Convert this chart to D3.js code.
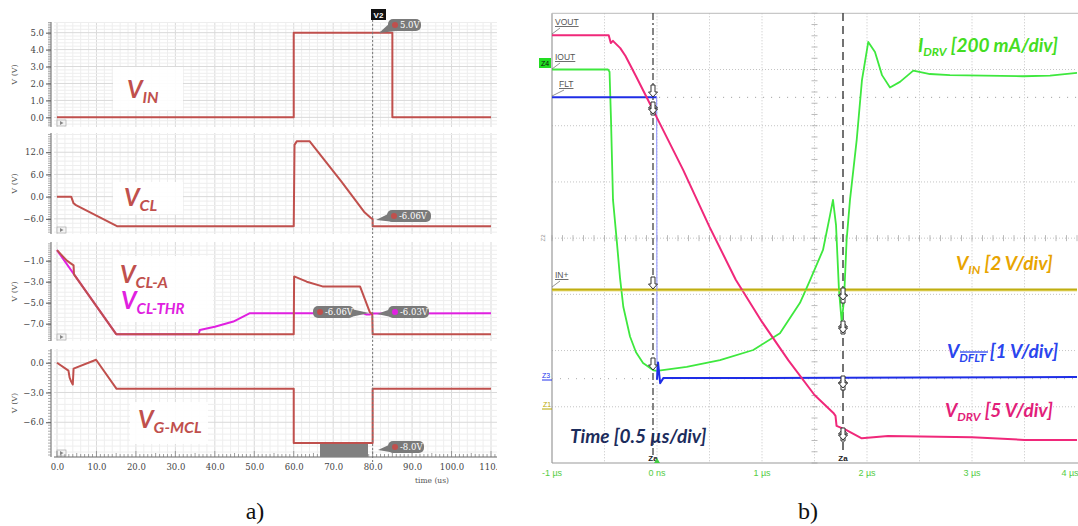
<!DOCTYPE html>
<html><head><meta charset="utf-8">
<script src="https://cdn.jsdelivr.net/npm/d3@7"></script>
<style>
html,body{margin:0;padding:0;background:#fff;}
svg{display:block;}
</style></head>
<body>
<svg id="c" width="1078" height="526"></svg>
<script>
// ---------------- DATA: panel a) simulation (time in µs, value in V) ----------------
const timeTicks = [0,10,20,30,40,50,60,70,80,90,100,110];
const vinData   = [[0,0],[60,0],[60,5],[85,5],[85,0],[110,0]];
const vclData   = [[0,0],[3.6,0],[4.2,-1.8],[4.8,-2.3],[15.2,-8],[60,-8],[60.2,14],[60.8,15],[64,15],[72,4.2],[76,-1.5],[78,-4.3],[79.5,-5.7],[80,-6.06],[80,-8],[110,-8]];
const vclAData  = [[0,0],[2.5,-1.0],[4.2,-1.45],[4.3,-2.3],[15,-8],[60,-8],[60.1,-2.5],[63.3,-3.0],[67.3,-3.45],[76.8,-3.45],[79.3,-5.93],[79.9,-6.06],[80,-8],[110,-8]];
const vclThrData= [[0,0],[15,-8],[35.9,-8],[36.2,-7.6],[40,-7.3],[44.7,-6.8],[48.9,-6.0],[77.5,-6.0],[78.3,-6.12],[79.4,-6.12],[80,-6.03],[110,-6.0]];
const vgData    = [[0,0],[2.9,-0.8],[3.2,-1.5],[3.6,-1.9],[4.0,-2.2],[4.2,-0.6],[9.9,0.3],[15.1,-2.63],[60,-2.63],[60,-8.1],[80,-8.1],[80,-2.63],[110,-2.63]];
const p1Ticks = [0,1,2,3,4,5];
const p2Ticks = [-6,0,6,12];
const p3Ticks = [-7,-5,-3,-1];
const p4Ticks = [-6,-3,0];

// ---------------- DATA: panel b) oscilloscope (time in µs, value in divisions) ----------------
const scopeTimeTicks = [-1,0,1,2,3,4];
const scopeTimeLabels = ["-1 µs","0 ns","1 µs","2 µs","3 µs","4 µs"];
const vdrvData = [[-1,3.61],[-0.46,3.61],[-0.44,3.47],[-0.42,3.51],[-0.35,3.38],[-0.3,3.24],[-0.2,2.88],[-0.1,2.51],[0,2.14],[0.25,1.21],[0.5,0.20],[0.75,-0.74],[1.0,-1.49],[1.25,-2.17],[1.5,-2.79],[1.68,-3.11],[1.7,-3.16],[1.71,-3.34],[1.8,-3.41],[1.95,-3.56],[2.2,-3.52],[3.0,-3.54],[3.5,-3.59],[4.0,-3.59]];
const idrvData = [[-1,3.0],[-0.467,3.0],[-0.452,2.96],[-0.438,2.10],[-0.419,0.68],[-0.384,-0.03],[-0.352,-0.71],[-0.321,-1.22],[-0.257,-1.75],[-0.2,-2.03],[-0.133,-2.22],[-0.035,-2.35],[0,-2.36],[0.283,-2.29],[0.6,-2.17],[0.917,-1.99],[1.171,-1.69],[1.362,-1.15],[1.457,-0.75],[1.581,-0.21],[1.648,0.41],[1.676,0.68],[1.705,0.23],[1.733,-0.92],[1.759,-1.49],[1.781,-1.10],[1.806,-0.03],[1.838,0.68],[1.902,1.75],[1.952,2.81],[2.012,3.49],[2.076,3.31],[2.143,2.90],[2.219,2.68],[2.314,2.78],[2.441,2.98],[2.6,2.92],[2.79,2.90],[3.486,2.88],[3.743,2.89],[4.0,2.94]];
const vdfltHigh = [[-1,2.505],[-0.003,2.505]];
const vdfltEdge = [[-0.003,2.505],[0.0,-2.52]];
const vdfltLow  = [[0.0,-2.52],[0.01,-2.21],[0.03,-2.58],[0.06,-2.49],[1.0,-2.49],[2.5,-2.48],[4.0,-2.47]];
const vinScopeData = [[-1,-0.915],[4,-0.915]];

// ---------------- DRAW ----------------
const svg = d3.select("#c");
const RED = "#c0504d", MAG = "#e020e0";

// ===== panel a =====
const gA = svg.append("g");
svg.append("defs").append("clipPath").attr("id","clipA").append("rect").attr("x",0).attr("y",0).attr("width",497).attr("height",526);
gA.attr("clip-path","url(#clipA)");
const tL = d3.scaleLinear().domain([0,110]).range([57,491]);
const gridX0 = 54, gridX1 = 497;

const panels = [
  {top:22, bottom:127, domain:[-0.57,5.63], ticks:p1Ticks, minor:0.1, gMinor:0.2, series:[[vinData,RED]]},
  {top:133,bottom:234, domain:[-10.1,17.2], ticks:p2Ticks, minor:0.6, gMinor:1.2, series:[[vclData,RED]]},
  {top:242,bottom:341, domain:[-8.65,0.78], ticks:p3Ticks, minor:0.2, gMinor:0.4, series:[[vclThrData,MAG],[vclAData,RED]]},
  {top:349,bottom:457, domain:[-9.5,1.38], ticks:p4Ticks, minor:0.3, gMinor:0.6, series:[[vgData,RED]]}
];

panels.forEach((p,i)=>{
  const y = d3.scaleLinear().domain(p.domain).range([p.bottom,p.top]);
  p.y = y;
  const g = gA.append("g");
  for(let t=0; t<=112; t+=2){
    const x=tL(t); if(x>gridX1) continue;
    g.append("line").attr("x1",x).attr("x2",x).attr("y1",p.top).attr("y2",p.bottom)
      .attr("stroke", t%10===0? "#d9d9d9":"#eeeeee").attr("stroke-width",1);
  }
  const lo = Math.ceil(p.domain[0]/p.gMinor), hi = Math.floor(p.domain[1]/p.gMinor);
  for(let k=lo;k<=hi;k++){
    const v=k*p.gMinor;
    const major = p.ticks.some(tk=>Math.abs(tk-v)<1e-6);
    g.append("line").attr("x1",gridX0).attr("x2",gridX1).attr("y1",y(v)).attr("y2",y(v))
      .attr("stroke", major? "#d9d9d9":"#eeeeee").attr("stroke-width",1);
  }
  g.append("line").attr("x1",51).attr("x2",51).attr("y1",p.top).attr("y2",p.bottom).attr("stroke","#666");
  const mlo = Math.ceil(p.domain[0]/p.minor), mhi = Math.floor(p.domain[1]/p.minor);
  for(let k=mlo;k<=mhi;k++){
    g.append("line").attr("x1",48).attr("x2",51).attr("y1",y(k*p.minor)).attr("y2",y(k*p.minor)).attr("stroke","#888").attr("stroke-width",0.7);
  }
  const ax = d3.axisLeft(y).tickValues(p.ticks).tickFormat(d3.format(".1f")).tickSize(5).tickPadding(2);
  const axg = g.append("g").attr("transform","translate(51,0)").call(ax);
  axg.select(".domain").remove();
  axg.selectAll("line").attr("stroke","#555");
  axg.selectAll("text").attr("font-family","'DejaVu Serif', serif").attr("font-size",8.5).attr("fill","#444");
  g.append("text").attr("transform",`translate(17,${(p.top+p.bottom)/2}) rotate(-90)`)
    .attr("text-anchor","middle").attr("font-family","'DejaVu Serif', serif").attr("font-size",8).attr("fill","#555").text("V (V)");
  g.append("rect").attr("x",57).attr("y",p.bottom-7).attr("width",9).attr("height",6).attr("fill","#f4f4f4").attr("stroke","#aaa").attr("stroke-width",0.7);
  g.append("path").attr("d",`M60,${p.bottom-6} L63.5,${p.bottom-4} L60,${p.bottom-2} Z`).attr("fill","#888");
});

const labelBoxes = [[113,67,70,43],[113,182,70,32],[113,256,100,66],[130,402,78,42]];
labelBoxes.forEach(b=>gA.append("rect").attr("x",b[0]).attr("y",b[1]).attr("width",b[2]).attr("height",b[3]).attr("fill","#fff").attr("opacity",0.9));

panels.forEach(p=>{
  const line = d3.line().x(d=>tL(d[0])).y(d=>p.y(d[1]));
  p.series.forEach(([data,col])=>{
    gA.append("path").datum(data).attr("d",line).attr("fill","none").attr("stroke",col).attr("stroke-width",2).attr("stroke-linejoin","round");
  });
});

const xAxG = gA.append("g").attr("transform","translate(0,457)");
xAxG.append("line").attr("x1",54).attr("x2",497).attr("y1",0).attr("y2",0).attr("stroke","#666");
for(let t=0;t<=112;t++){
  const x=tL(t); if(x>497) continue;
  xAxG.append("line").attr("x1",x).attr("x2",x).attr("y1",0).attr("y2", t%10===0? -6 : (t%5===0?-4:-3)).attr("stroke","#777").attr("stroke-width",0.7);
}
const xax = d3.axisBottom(tL).tickValues(timeTicks).tickFormat(d3.format(".1f")).tickSize(0).tickPadding(7);
const xg = gA.append("g").attr("transform","translate(0,457)").call(xax);
xg.select(".domain").remove();
xg.selectAll("text").attr("font-family","'DejaVu Serif', serif").attr("font-size",8.5).attr("fill","#444");
gA.append("text").attr("x",432).attr("y",483).attr("text-anchor","middle").attr("font-family","'DejaVu Serif', serif").attr("font-size",7.5).attr("fill","#555").text("time (us)");

gA.append("rect").attr("x",320).attr("y",444).attr("width",48).attr("height",13).attr("fill","#808080");

gA.append("line").attr("x1",tL(80)).attr("x2",tL(80)).attr("y1",20).attr("y2",462).attr("stroke","#777").attr("stroke-width",1).attr("stroke-dasharray","2,2");
gA.append("rect").attr("x",371).attr("y",9).attr("width",15).attr("height",11).attr("fill","#111");
gA.append("text").attr("x",378.5).attr("y",18).attr("text-anchor","middle").attr("font-family","'Liberation Sans',sans-serif").attr("font-weight","bold").attr("font-size",8).attr("fill","#fff").text("V2");

function pill(x,y,w,txt,dot,side,tipx,tipy){
  const h=12;
  const g=gA.append("g");
  if(side==="left") g.append("path").attr("d",`M${x+3},${y+3} L${tipx},${tipy} L${x+8},${y+h}Z`).attr("fill","#7a7a7a");
  else g.append("path").attr("d",`M${x+w-3},${y+3} L${tipx},${tipy} L${x+w-8},${y+h}Z`).attr("fill","#7a7a7a");
  g.append("rect").attr("x",x).attr("y",y).attr("width",w).attr("height",h).attr("rx",5).attr("fill","#7a7a7a");
  g.append("circle").attr("cx",x+7).attr("cy",y+6).attr("r",3).attr("fill",dot);
  g.append("text").attr("x",x+12).attr("y",y+9.3).attr("font-family","'DejaVu Serif', serif").attr("font-size",8.5).attr("fill","#fff").text(txt);
}
pill(388,19,33,"5.0V",RED,"left",379,33);
pill(387,210,44,"-6.06V",RED,"left",376,220);
pill(313,306,41,"-6.06V",RED,"right",369,313);
pill(388,306,41,"-6.03V",MAG,"left",377,314);
pill(388,441,36,"-8.0V",RED,"left",378,450);

function bigLabel(g,x,y,main,sub,col,size,subSize,extra){
  const t=g.append("text").attr("x",x).attr("y",y).attr("font-family","Lato,'Open Sans',sans-serif")
    .attr("font-style","italic").attr("font-weight","bold").attr("font-size",size).attr("fill",col);
  t.append("tspan").text(main);
  t.append("tspan").attr("font-size",subSize).attr("dy",size*0.22).text(sub);
  if(extra){ t.append("tspan").attr("dy",-size*0.22).text(extra); }
  return t;
}
bigLabel(gA,127,98,"V","IN",RED,24,16);
bigLabel(gA,124,206,"V","CL",RED,24,16);
bigLabel(gA,120,283,"V","CL-A",RED,24,16);
bigLabel(gA,121,309,"V","CL-THR",MAG,24,15);
bigLabel(gA,138,428,"V","G-MCL",RED,24,16);

// ===== panel b: oscilloscope =====
const gB = svg.append("g");
const tR = d3.scaleLinear().domain([-1,4]).range([552,1077]);
const yR = d3.scaleLinear().domain([-4,4]).range([463,13.3]);
for(let i=1;i<10;i++){
  const x=tR(-1+0.5*i);
  gB.append("line").attr("x1",x).attr("x2",x).attr("y1",yR(4)).attr("y2",yR(-4)).attr("stroke","#c4c4c4").attr("stroke-dasharray","1,2");
}
for(let d=-3; d<=3; d++){
  gB.append("line").attr("x1",tR(-1)).attr("x2",tR(4)).attr("y1",yR(d)).attr("y2",yR(d)).attr("stroke","#c4c4c4").attr("stroke-dasharray","1,2");
}
for(let k=-20;k<=20;k++){
  const y=yR(k*0.2);
  gB.append("line").attr("x1",tR(1.5)-3).attr("x2",tR(1.5)+3).attr("y1",y).attr("y2",y).attr("stroke","#aaa").attr("stroke-width",0.8);
}
for(let k=-10;k<=40;k++){
  const x=tR(k*0.1);
  gB.append("line").attr("x1",x).attr("x2",x).attr("y1",yR(0)-3).attr("y2",yR(0)+3).attr("stroke","#aaa").attr("stroke-width",0.8);
}
gB.append("line").attr("x1",552).attr("x2",552).attr("y1",13.3).attr("y2",463).attr("stroke","#999").attr("stroke-width",1.2);
gB.append("line").attr("x1",552).attr("x2",1078).attr("y1",13.3).attr("y2",13.3).attr("stroke","#bbb");
gB.append("line").attr("x1",552).attr("x2",1078).attr("y1",463).attr("y2",463).attr("stroke","#999").attr("stroke-width",1.2);
gB.append("line").attr("x1",tR(0.02)).attr("x2",1078).attr("y1",yR(2.505)).attr("y2",yR(2.505)).attr("stroke","#999").attr("stroke-dasharray","1,7");
gB.append("line").attr("x1",552).attr("x2",1078).attr("y1",yR(-2.5)).attr("y2",yR(-2.5)).attr("stroke","#aaa").attr("stroke-dasharray","1,7");

gB.append("line").attr("x1",653).attr("x2",653).attr("y1",13).attr("y2",455).attr("stroke","#444").attr("stroke-width",1.3).attr("stroke-dasharray","7,3,2,3");
gB.append("line").attr("x1",843).attr("x2",843).attr("y1",13).attr("y2",455).attr("stroke","#444").attr("stroke-width",1.5).attr("stroke-dasharray","8,5");

const lineR = d3.line().x(d=>tR(d[0])).y(d=>yR(d[1]));
[[vinScopeData,"#bfae10",2.4],[idrvData,"#3ee83e",1.8],[vdfltHigh,"#1f2ee6",2],[vdfltEdge,"#8a90ff",1],[vdfltLow,"#1f2ee6",2],[vdrvData,"#f0287a",2]].forEach(([d,c,w])=>{
  gB.append("path").datum(d).attr("d",lineR).attr("fill","none").attr("stroke",c).attr("stroke-width",w).attr("stroke-linejoin","round");
});
gB.append("path").datum(vinScopeData).attr("d",lineR).attr("fill","none").attr("stroke","#d8c840").attr("stroke-width",1).attr("transform","translate(0,1.2)");

function marker(x,y,dir){
  const s = dir==="down"?1:-1;
  const d=`M${x-2},${y-12*s} L${x+2},${y-12*s} L${x+2},${y-5*s} L${x+4.5},${y-5*s} L${x},${y} L${x-4.5},${y-5*s} L${x-2},${y-5*s} Z`;
  gB.append("path").attr("d",d).attr("fill","#fff").attr("stroke","#333").attr("stroke-width",1);
}
marker(653,97,"down"); marker(653,103,"up"); marker(653,114,"down");
marker(653,289,"down"); marker(653,370,"down");
marker(843,291,"up"); marker(843,300,"down");
marker(843,322,"up"); marker(843,333,"down");
marker(843,378,"up"); marker(843,388,"down");
marker(843,429,"up"); marker(843,440,"down");

function chLabel(x,y,txt){
  gB.append("text").attr("x",x).attr("y",y).attr("font-family","'Liberation Sans',sans-serif").attr("font-size",8.5)
    .attr("fill","#555").attr("text-decoration","underline").text(txt);
  gB.append("line").attr("x1",552).attr("y1",y+9).attr("x2",x+5).attr("y2",y+3).attr("stroke","#777").attr("stroke-width",0.8);
}
chLabel(555,25,"VOUT");
chLabel(555,60,"IOUT");
chLabel(559,87,"FLT");
chLabel(555,278,"IN+");
gB.append("rect").attr("x",539).attr("y",58).attr("width",12).attr("height",10).attr("fill","#22dd22");
gB.append("text").attr("x",545).attr("y",66).attr("text-anchor","middle").attr("font-family","'Liberation Sans',sans-serif").attr("font-size",7).attr("fill","#111").text("Z4");
gB.append("text").attr("transform","translate(545,238) rotate(-90)").attr("text-anchor","middle").attr("font-family","'Liberation Sans',sans-serif").attr("font-size",6).attr("fill","#888").text("Z2");
gB.append("text").attr("x",542).attr("y",378).attr("font-family","'Liberation Sans',sans-serif").attr("font-size",7).attr("fill","#2233ee").text("Z3");
gB.append("line").attr("x1",542).attr("x2",552).attr("y1",380).attr("y2",380).attr("stroke","#2233ee");
gB.append("text").attr("x",543).attr("y",407).attr("font-family","'Liberation Sans',sans-serif").attr("font-size",7).attr("fill","#b8a800").text("Z1");
gB.append("line").attr("x1",542).attr("x2",552).attr("y1",409).attr("y2",409).attr("stroke","#b8a800");
[[653,461],[843,461]].forEach(([x,y])=>gB.append("text").attr("x",x).attr("y",y).attr("text-anchor","middle").attr("font-family","'Liberation Sans',sans-serif").attr("font-weight","bold").attr("font-size",8).attr("fill","#222").text("Za"));
gB.append("path").attr("d","M654,463 L657,458 L660,463 Z").attr("fill","#44cc44");

scopeTimeTicks.forEach((t,i)=>{
  const x = Math.min(tR(t), 1070);
  gB.append("text").attr("x",x).attr("y",476).attr("text-anchor","middle").attr("font-family","'Liberation Sans',sans-serif")
    .attr("font-size",9).attr("fill","#55cc44").text(scopeTimeLabels[i]);
});

bigLabel(gB,918,52,"I","DRV","#44dd22",19,12," [200 mA/div]");
bigLabel(gB,956,270,"V","IN","#e8a400",19,12," [2 V/div]");
bigLabel(gB,947,358,"V","DFLT","#2a45ee",19,12," [1 V/div]");
gB.append("line").attr("x1",960).attr("x2",988).attr("y1",352).attr("y2",352).attr("stroke","#2a45ee").attr("stroke-width",1.3);
bigLabel(gB,945,417,"V","DRV","#e21e7a",19,12," [5 V/div]");
gB.append("text").attr("x",570).attr("y",443).attr("font-family","Lato,'Open Sans',sans-serif").attr("font-style","italic").attr("font-weight","bold")
  .attr("font-size",19).attr("fill","#1c2c5c").text("Time [0.5 µs/div]");

svg.append("text").attr("x",255).attr("y",519).attr("text-anchor","middle").attr("font-family","'Liberation Serif',serif").attr("font-size",24).attr("fill","#111").text("a)");
svg.append("text").attr("x",808).attr("y",519).attr("text-anchor","middle").attr("font-family","'Liberation Serif',serif").attr("font-size",24).attr("fill","#111").text("b)");
</script>
</body></html>
